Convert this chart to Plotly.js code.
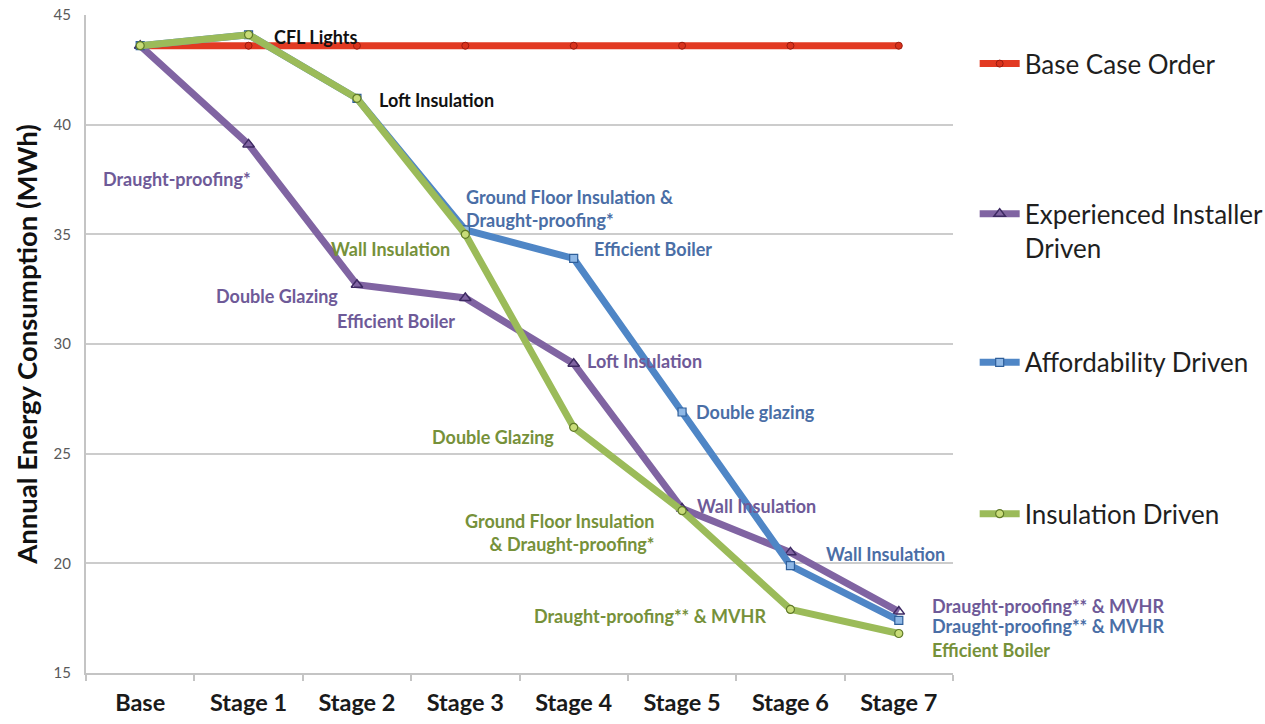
<!DOCTYPE html>
<html>
<head>
<meta charset="utf-8">
<script src="https://cdn.plot.ly/plotly-3.0.1.min.js"></script>
<style>
  html, body { margin: 0; padding: 0; background: #ffffff; }
  #chart { width: 1265px; height: 724px; }
</style>
</head>
<body>
<div id="chart"></div>
<script>
// Retrofit stages along the x axis
const stages = ['Base', 'Stage 1', 'Stage 2', 'Stage 3', 'Stage 4', 'Stage 5', 'Stage 6', 'Stage 7'];

// Annual energy consumption (MWh) after each stage, per ordering strategy
const baseCaseOrder = [43.6, 43.6, 43.6, 43.6, 43.6, 43.6, 43.6, 43.6];
const experiencedInstaller = [43.6, 39.1, 32.7, 32.1, 29.1, 22.5, 20.5, 17.8];
const affordability = [43.6, 44.1, 41.2, 35.2, 33.9, 26.9, 19.9, 17.4];
const insulation = [43.6, 44.1, 41.2, 35.0, 26.2, 22.4, 17.9, 16.8];

// Measure installed at each stage (shown next to the point)
const sharedMeasures = ['', 'CFL Lights', 'Loft Insulation', '', '', '', '', ''];
const experiencedMeasures = ['', 'Draught-proofing*', 'Double Glazing', 'Efficient Boiler',
  'Loft Insulation', 'Wall Insulation', '', 'Draught-proofing** & MVHR'];
const affordabilityMeasures = ['', '', '', 'Ground Floor Insulation &<br>Draught-proofing*',
  'Efficient Boiler', 'Double glazing', 'Wall Insulation', 'Draught-proofing** & MVHR'];
const insulationMeasures = ['', '', '', 'Wall Insulation', 'Double Glazing',
  'Ground Floor Insulation<br>& Draught-proofing*', 'Draught-proofing** & MVHR', 'Efficient Boiler'];

const FONT = 'Lato, "Open Sans", sans-serif';
const COLORS = {
  base: '#e23a22',
  exp: '#8064a2',
  aff: '#4f86c6',
  ins: '#9bbb59'
};
const LABEL_COLORS = {
  shared: '#111111',
  exp: '#6e5a98',
  aff: '#4a6ea6',
  ins: '#76913a'
};

function series(name, y, color, marker, legendId) {
  return {
    type: 'scatter',
    mode: 'lines+markers',
    name: name,
    x: stages,
    y: y,
    legend: legendId,
    line: { color: color, width: 7 },
    marker: marker,
    hoverinfo: 'x+y+name'
  };
}

const traces = [
  series('Base Case Order', baseCaseOrder, COLORS.base,
    { symbol: 'circle', size: 7, color: '#d8321c', line: { color: '#9c1c10', width: 1 } }, 'legend'),
  series('Experienced Installer<br>Driven', experiencedInstaller, COLORS.exp,
    { symbol: 'triangle-up-open', size: 10, color: '#3e2a63', line: { color: '#3e2a63', width: 1.5 } }, 'legend2'),
  series('Affordability Driven', affordability, COLORS.aff,
    { symbol: 'square', size: 8, color: '#8fb8e6', line: { color: '#2f5f9a', width: 1.2 } }, 'legend3'),
  series('Insulation Driven', insulation, COLORS.ins,
    { symbol: 'circle', size: 8, color: '#c8dc78', line: { color: '#5f7a28', width: 1.2 } }, 'legend4')
];

// Label placement around each point: [xanchor, xshift, yshift, align]
const placement = {
  shared: { 1: ['left', 23, -2], 2: ['left', 20, -2] },
  exp: {
    1: ['right', 4, -35], 2: ['right', -17, -11], 3: ['right', -8, -23],
    4: ['left', 11, 3], 5: ['left', 13, 3], 7: ['left', 31, 6]
  },
  aff: {
    3: ['left', -1, 21, 'left'], 4: ['left', 18, 9], 5: ['left', 12, 0],
    6: ['left', 34, 12], 7: ['left', 31, -6]
  },
  ins: {
    3: ['right', -13, -15], 4: ['right', -18, -10], 5: ['right', -25, -22, 'right'],
    6: ['right', -22, -7], 7: ['left', 31, -16]
  }
};

const annotations = [];
function addLabels(key, texts, values) {
  texts.forEach((t, i) => {
    if (!t) return;
    const p = placement[key][i];
    annotations.push({
      x: stages[i], y: values[i], xref: 'x', yref: 'y',
      text: t, showarrow: false,
      xanchor: p[0], yanchor: 'middle', align: p[3] || p[0],
      xshift: p[1], yshift: p[2],
      font: { family: FONT, size: 18, weight: 700, color: LABEL_COLORS[key] }
    });
  });
}
addLabels('shared', sharedMeasures, insulation);
addLabels('exp', experiencedMeasures, experiencedInstaller);
addLabels('aff', affordabilityMeasures, affordability);
addLabels('ins', insulationMeasures, insulation);

function legendAt(y) {
  return {
    x: 1.025, xanchor: 'left', y: y, yanchor: 'middle',
    bgcolor: 'rgba(0,0,0,0)', borderwidth: 0,
    itemwidth: 40, valign: 'top',
    font: { family: FONT, size: 26, color: '#1f1f1f' }
  };
}

const layout = {
  width: 1265,
  height: 724,
  margin: { l: 86, r: 312, t: 15, b: 51, autoexpand: false },
  paper_bgcolor: '#ffffff',
  plot_bgcolor: '#ffffff',
  showlegend: true,
  legend: legendAt(0.926),
  legend2: legendAt(0.672),
  legend3: legendAt(0.472),
  legend4: legendAt(0.242),
  xaxis: {
    type: 'category',
    range: [-0.5, stages.length - 0.5],
    autorange: false,
    tickson: 'boundaries',
    ticks: 'outside', ticklen: 6, tickwidth: 2, tickcolor: '#c4c4c4',
    showline: true, linecolor: '#c4c4c4', linewidth: 2,
    showgrid: false, zeroline: false,
    ticklabelstandoff: 8,
    tickfont: { family: FONT, size: 23.5, weight: 700, color: '#1a1a1a' }
  },
  yaxis: {
    range: [15, 45], autorange: false, dtick: 5, tick0: 15,
    showgrid: true, gridcolor: '#cccccc', gridwidth: 2,
    showline: true, linecolor: '#c4c4c4', linewidth: 2,
    zeroline: false, ticks: '',
    ticklabelstandoff: 10,
    tickfont: { family: FONT, size: 15, color: '#595959' },
    title: {
      text: 'Annual Energy Consumption (MWh)',
      standoff: 8,
      font: { family: FONT, size: 27.5, weight: 700, color: '#111111' }
    }
  },
  annotations: annotations
};

Plotly.newPlot('chart', traces, layout, { displayModeBar: false, responsive: false });
</script>
</body>
</html>
